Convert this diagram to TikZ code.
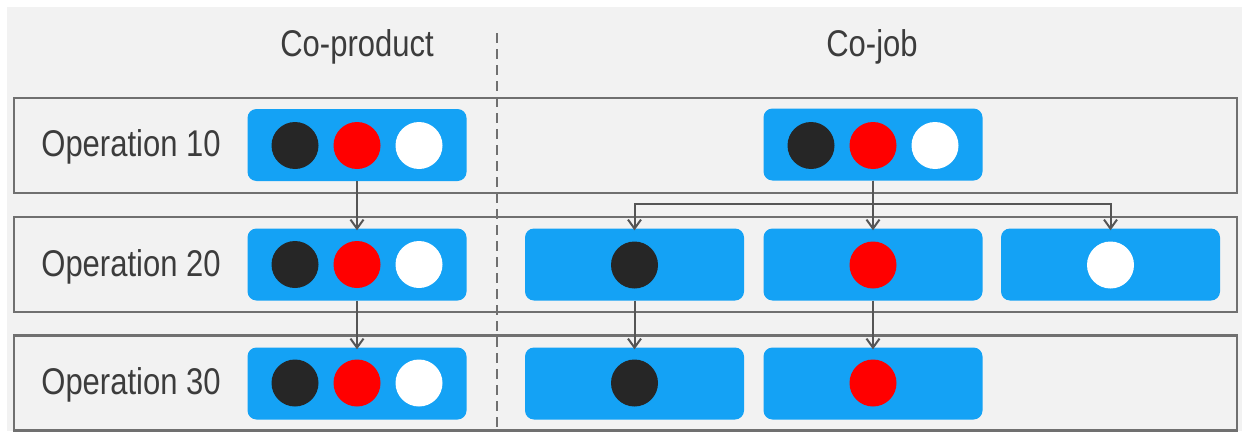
\documentclass[tikz,border=0pt]{standalone}
\usepackage{fontspec}
\setmainfont{Liberation Sans}
\usetikzlibrary{arrows.meta}
\definecolor{bgc}{RGB}{242,242,242}
\definecolor{framec}{RGB}{112,112,112}
\definecolor{boxc}{RGB}{20,162,245}
\definecolor{linec}{RGB}{85,85,85}
\definecolor{txtc}{RGB}{60,60,60}
\definecolor{dotblack}{RGB}{38,38,38}
\newcommand{\tallt}[1]{\scalebox{1}[1.2]{#1}}
\begin{document}
\begin{tikzpicture}[x=1pt,y=-1pt,
  rowbox/.style={draw=framec,line width=2.2pt,minimum width=1223pt,minimum height=95pt,inner sep=0pt},
  bluebox/.style={fill=boxc,rounded corners=9pt,minimum width=219pt,minimum height=72pt,inner sep=0pt},
  dot/.style={circle,minimum size=47pt,inner sep=0pt},
  blk/.style={dot,fill=dotblack},
  rd/.style={dot,fill=red},
  wh/.style={dot,fill=white},
  lbl/.style={text=txtc,font=\fontsize{31}{31}\selectfont,inner sep=0pt},
  arr/.style={draw=linec,line width=2pt,-{Straight Barb[length=9pt,width=13pt,line width=2pt]}}
]
\useasboundingbox (0,0) rectangle (1242,431);
\fill[bgc] (7,7) rectangle (1242,431);
\draw[framec,line width=1.4pt,dash pattern=on 10pt off 6pt] (497,33) -- (497,431);

\node[lbl] (h1) at (357,47) {\tallt{Co-product}};
\node[lbl] (h2) at (872,47) {\tallt{Co-job}};

\node[rowbox] (r1) at (625.5,145.5) {};
\node[rowbox] (r2) at (625.5,264.5) {};
\node[rowbox] (r3) at (625.5,383) {};

\node[lbl] (l1) at (131,147) {\tallt{Operation 10}};
\node[lbl] (l2) at (131,267) {\tallt{Operation 20}};
\node[lbl] (l3) at (131,385) {\tallt{Operation 30}};

% co-product
\node[bluebox] (cp1) at (357,145) {};
\node[bluebox] (cp2) at (357,264.5) {};
\node[bluebox] (cp3) at (357,383.5) {};
\foreach \n/\y in {1/145.5,2/264.5,3/383}{
  \node[blk] (cpb\n) at (295,\y) {};
  \node[rd] (cpr\n) at (357,\y) {};
  \node[wh] (cpw\n) at (419,\y) {};
}

% co-job
\node[bluebox] (cj1) at (873,144.5) {};
\node[blk] (cj1b) at (811,145.5) {};
\node[rd] (cj1r) at (873,145.5) {};
\node[wh] (cj1w) at (935,145.5) {};

\node[bluebox] (cj2a) at (634.5,264.5) {};
\node[bluebox] (cj2b) at (873,264.5) {};
\node[bluebox] (cj2c) at (1110.5,264.5) {};
\node[blk] (cj2ad) at (634.5,265) {};
\node[rd] (cj2bd) at (873,265) {};
\node[wh] (cj2cd) at (1110.5,265) {};

\node[bluebox] (cj3a) at (634.5,383.5) {};
\node[bluebox] (cj3b) at (873,383.5) {};
\node[blk] (cj3ad) at (634.5,383) {};
\node[rd] (cj3bd) at (873,383) {};

% connectors
\draw[arr] (cp1.south) -- ([yshift=-2pt]cp2.north);
\draw[arr] (cp2.south) -- ([yshift=-2pt]cp3.north);

\coordinate (jl) at (634.5,204);
\coordinate (jr) at (1110.5,204);
\draw[arr] (cj1.south) -- ([yshift=-2pt]cj2b.north);
\draw[arr] (cj1.south) |- (jl) -- ([yshift=-2pt]cj2a.north);
\draw[arr] (cj1.south) |- (jr) -- ([yshift=-2pt]cj2c.north);
\draw[arr] (cj2a.south) -- ([yshift=-2pt]cj3a.north);
\draw[arr] (cj2b.south) -- ([yshift=-2pt]cj3b.north);
\end{tikzpicture}
\end{document}
